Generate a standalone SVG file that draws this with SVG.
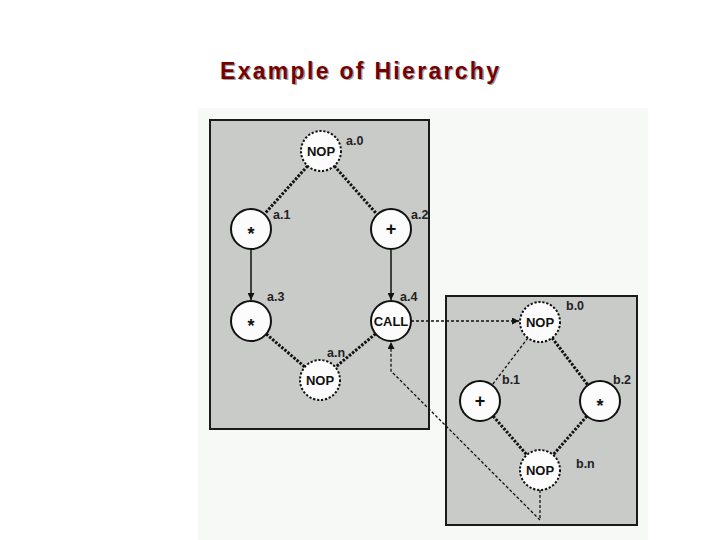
<svg xmlns="http://www.w3.org/2000/svg" width="720" height="540" viewBox="0 0 720 540">
<style>
.title{font-family:"Liberation Sans",Arial,sans-serif;font-weight:bold;font-size:23px}
.box{fill:#c9cbc9;stroke:#1a1a1a;stroke-width:2}
.node{fill:#fbfcfb;stroke:#111;stroke-width:2}
.dnode{fill:#fbfcfb;stroke:#111;stroke-width:2;stroke-dasharray:2.2,1.8}
.nt{font-family:"Liberation Sans",Arial,sans-serif;font-weight:bold;font-size:13px;fill:#111;text-anchor:middle}
.op{font-family:"Liberation Sans",Arial,sans-serif;font-weight:bold;font-size:18px;fill:#111;text-anchor:middle}
.lb{font-family:"Liberation Sans",Arial,sans-serif;font-weight:bold;font-size:12.5px;fill:#222}
.thick{fill:none;stroke:#111;stroke-width:3;stroke-dasharray:2.5,1.5}
.thin{fill:none;stroke:#111;stroke-width:1.3;stroke-dasharray:3,2}
.solid{fill:none;stroke:#111;stroke-width:1.5}
</style>
<defs>
<marker id="ah" viewBox="0 0 10 10" refX="10" refY="5" markerWidth="10" markerHeight="7" markerUnits="userSpaceOnUse" orient="auto">
<path d="M0,0 L10,5 L0,10 z" fill="#111"/>
</marker>
</defs>
<rect x="0" y="0" width="720" height="540" fill="#ffffff"/>
<rect x="198" y="108" width="450" height="432" fill="#f6f9f6"/>
<text class="title" x="221.3" y="80.3" fill="#a0a0a0" textLength="279" lengthAdjust="spacing">Example of Hierarchy</text>
<text class="title" x="220" y="79" fill="#760000" textLength="279" lengthAdjust="spacing">Example of Hierarchy</text>
<g id="boxA"><rect class="box" x="210" y="120" width="219" height="309"/></g>
<g id="boxB"><rect class="box" x="446" y="296" width="191" height="229"/></g>
<g id="connectors">
<line class="thick" x1="307.6" y1="165.9" x2="265" y2="213.4"/>
<line class="thick" x1="334.3" y1="166" x2="376.7" y2="214"/>
<line class="solid" x1="251" y1="250" x2="251" y2="300" marker-end="url(#ah)"/>
<line class="solid" x1="391" y1="250" x2="391" y2="300" marker-end="url(#ah)"/>
<line class="thick" x1="266.2" y1="334" x2="304.8" y2="367"/>
<line class="thick" x1="375.6" y1="333.8" x2="335.4" y2="367.2"/>
<line class="thin" x1="411" y1="321" x2="519" y2="321" marker-end="url(#ah)"/>
<line class="thin" x1="527.9" y1="337.9" x2="492.1" y2="385.1"/>
<line class="thick" x1="552.1" y1="337.9" x2="587.9" y2="385.1"/>
<line class="thick" x1="493.1" y1="416.1" x2="526.9" y2="454.9"/>
<line class="thick" x1="586.9" y1="416.1" x2="553.1" y2="454.9"/>
<polyline class="thin" points="540,490 540,520 391,371 391,342" marker-end="url(#ah)"/>
</g>
<g id="a0"><circle class="dnode" cx="321" cy="151" r="20"/><text class="nt" x="321" y="155.5">NOP</text><text class="lb" x="346" y="145">a.0</text></g>
<g id="a1"><circle class="node" cx="251" cy="229" r="20"/><text class="op" x="251" y="240">*</text><text class="lb" x="273" y="219">a.1</text></g>
<g id="a2"><circle class="node" cx="391" cy="229" r="20"/><text class="op" x="391" y="235">+</text><text class="lb" x="411" y="219">a.2</text></g>
<g id="a3"><circle class="node" cx="251" cy="321" r="20"/><text class="op" x="251" y="332">*</text><text class="lb" x="267" y="301">a.3</text></g>
<g id="a4"><circle class="node" cx="391" cy="321" r="20"/><text class="nt" x="391" y="325.5">CALL</text><text class="lb" x="400" y="301">a.4</text></g>
<g id="an"><circle class="dnode" cx="320" cy="380" r="20"/><text class="nt" x="320" y="384.5">NOP</text><text class="lb" x="327" y="357">a.n</text></g>
<g id="b0"><circle class="dnode" cx="540" cy="322" r="20"/><text class="nt" x="540" y="326.5">NOP</text><text class="lb" x="566" y="310">b.0</text></g>
<g id="b1"><circle class="node" cx="480" cy="401" r="20"/><text class="op" x="480" y="407">+</text><text class="lb" x="502" y="384">b.1</text></g>
<g id="b2"><circle class="node" cx="600" cy="401" r="20"/><text class="op" x="600" y="412">*</text><text class="lb" x="613" y="384">b.2</text></g>
<g id="bn"><circle class="dnode" cx="540" cy="470" r="20"/><text class="nt" x="540" y="474.5">NOP</text><text class="lb" x="576" y="468">b.n</text></g>
</svg>
